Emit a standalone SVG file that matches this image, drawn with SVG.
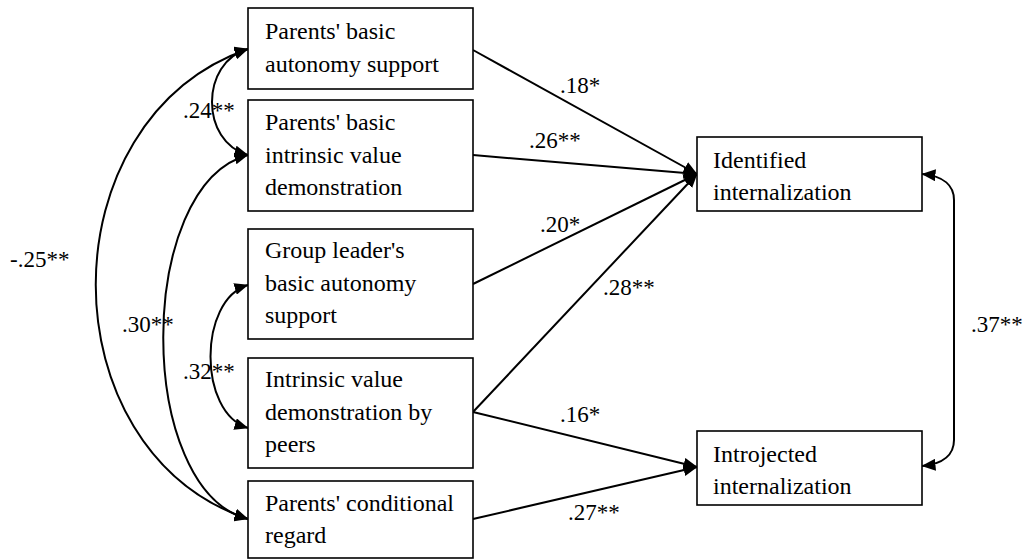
<svg xmlns="http://www.w3.org/2000/svg" width="1030" height="560" viewBox="0 0 1030 560">
<style>
.box{fill:#fff;stroke:#000;stroke-width:1.6}
.c{fill:none;stroke:#000;stroke-width:2}
.f{font-family:Liberation Serif,DejaVu Serif,Tinos,Noto Serif,serif}
</style>
<defs>
<marker id="ah" viewBox="0 0 14 12" refX="13.5" refY="6" markerWidth="14" markerHeight="12" markerUnits="userSpaceOnUse" orient="auto-start-reverse">
<path d="M0,0 L14,6 L0,12 z" fill="#000"/>
</marker>
</defs>
<rect width="1030" height="560" fill="#fff"/>
<g id="connectors">
<path class="c" d="M473,50 L697,174" marker-end="url(#ah)"/>
<path class="c" d="M473,155 L697,174" marker-end="url(#ah)"/>
<path class="c" d="M473,284 L697,174" marker-end="url(#ah)"/>
<path class="c" d="M473,412 L697,174" marker-end="url(#ah)"/>
<path class="c" d="M473,412 L697,467" marker-end="url(#ah)"/>
<path class="c" d="M473,519 L697,467" marker-end="url(#ah)"/>
<path class="c" d="M922,174 C944,176 954,186 954,200 L954,440 C954,454 944,464 922,466" marker-start="url(#ah)" marker-end="url(#ah)"/>
<path class="c" d="M248,49 C200,62 200,142 248,155" marker-start="url(#ah)" marker-end="url(#ah)"/>
<path class="c" d="M248,285 C198,300 198,413 248,428" marker-start="url(#ah)" marker-end="url(#ah)"/>
<path class="c" d="M248,49 C45,120 45,450 248,519" marker-start="url(#ah)" marker-end="url(#ah)"/>
<path class="c" d="M248,155 C135,185 135,490 248,519" marker-start="url(#ah)" marker-end="url(#ah)"/>
</g>
<g id="labels" class="f" font-size="23" fill="#000">
<text x="560" y="93">.18*</text>
<text x="529" y="148">.26**</text>
<text x="540" y="232">.20*</text>
<text x="603" y="295">.28**</text>
<text x="560" y="422">.16*</text>
<text x="568" y="520">.27**</text>
<text x="971" y="332">.37**</text>
<text x="183" y="118">.24**</text>
<text x="10" y="267">-.25**</text>
<text x="122" y="332">.30**</text>
<text x="183" y="379">.32**</text>
</g>
<g class="f" font-size="24" fill="#000">
<g id="n1"><rect class="box" x="248" y="8" width="225" height="81"/><text x="265" y="39">Parents' basic</text><text x="265" y="72">autonomy support</text></g>
<g id="n2"><rect class="box" x="248" y="100" width="225" height="111"/><text x="265" y="130">Parents' basic</text><text x="265" y="163">intrinsic value</text><text x="265" y="195">demonstration</text></g>
<g id="n3"><rect class="box" x="248" y="229" width="225" height="110"/><text x="265" y="258">Group leader's</text><text x="265" y="291">basic autonomy</text><text x="265" y="323">support</text></g>
<g id="n4"><rect class="box" x="248" y="358" width="225" height="110"/><text x="265" y="387">Intrinsic value</text><text x="265" y="420">demonstration by</text><text x="265" y="452">peers</text></g>
<g id="n5"><rect class="box" x="248" y="481" width="225" height="77"/><text x="265" y="511">Parents' conditional</text><text x="265" y="543">regard</text></g>
<g id="n6"><rect class="box" x="697" y="137" width="225" height="74"/><text x="713" y="168">Identified</text><text x="713" y="200">internalization</text></g>
<g id="n7"><rect class="box" x="697" y="431" width="225" height="74"/><text x="713" y="462">Introjected</text><text x="713" y="494">internalization</text></g>
</g>
</svg>
